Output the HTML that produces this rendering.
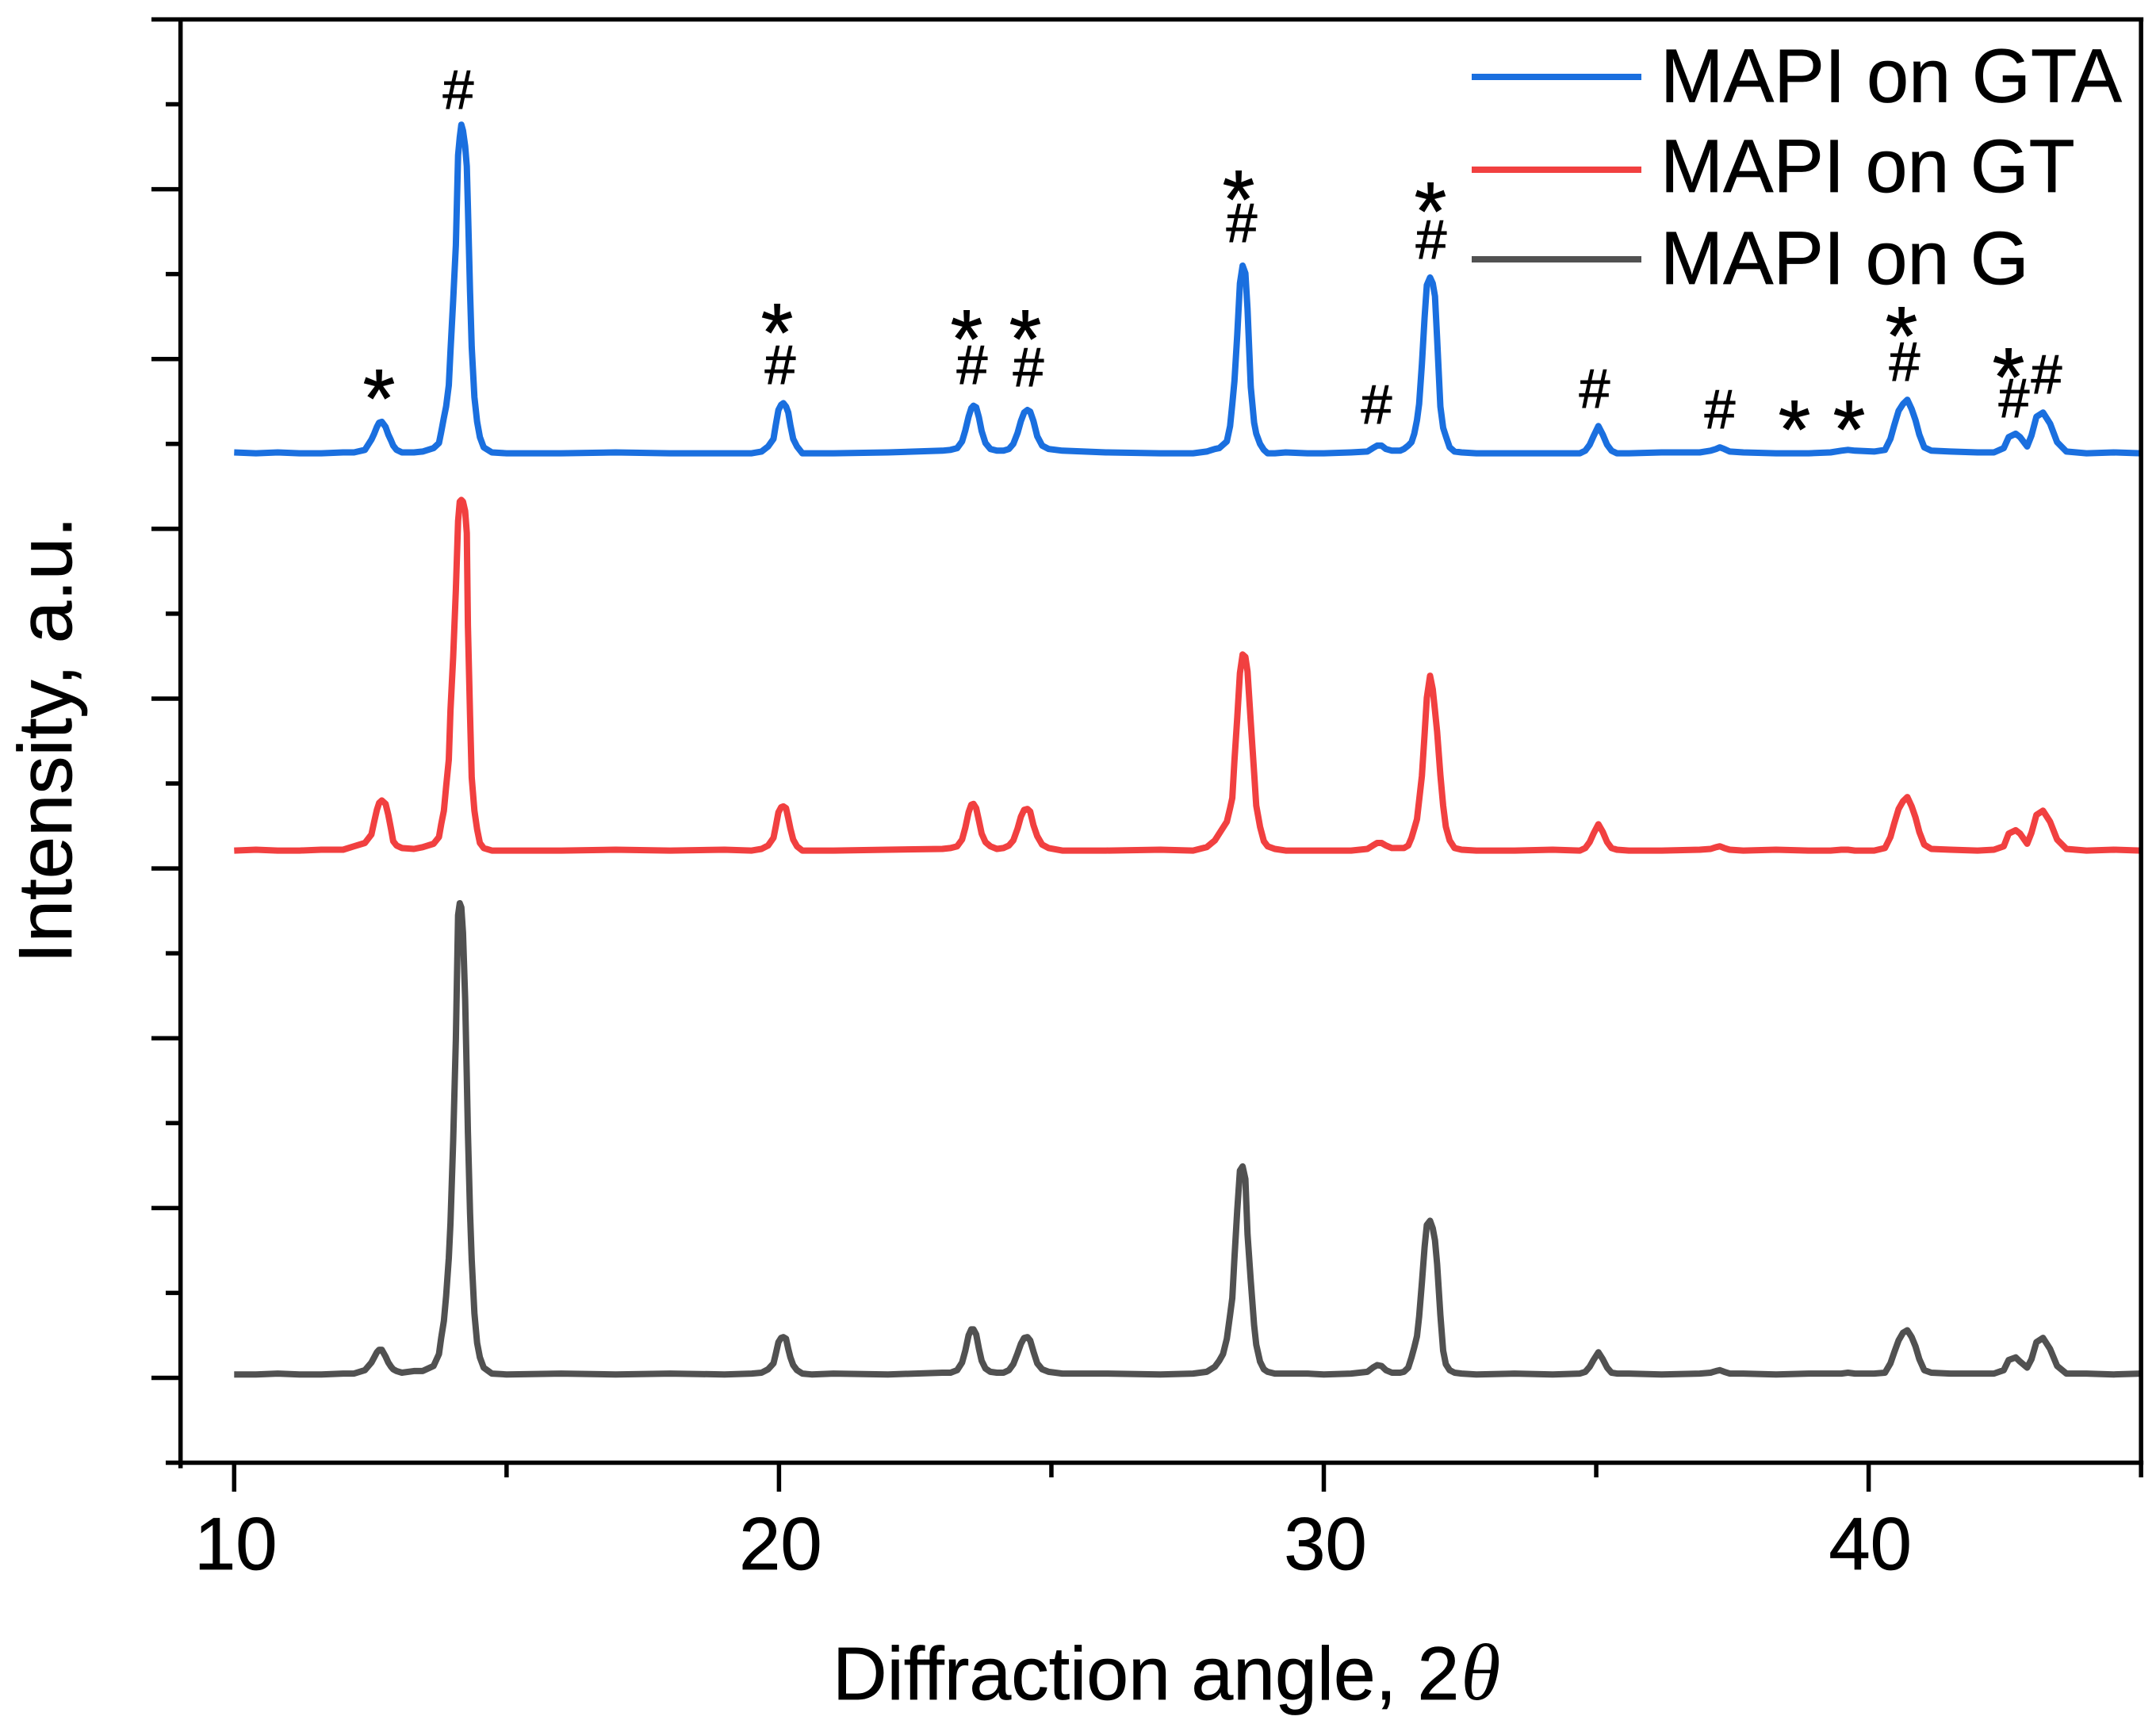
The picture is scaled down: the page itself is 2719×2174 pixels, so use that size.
<!DOCTYPE html>
<html lang="en">
<head>
<meta charset="utf-8">
<title>XRD patterns of MAPI films</title>
<style>
html,body{margin:0;padding:0;background:#fff;}
svg{display:block;}
text{font-family:"Liberation Sans",Arial,sans-serif;fill:#000;stroke:#000;stroke-width:0.7px;}
.hash{font-size:70px;text-anchor:middle;stroke-width:1px;}
.star{font-size:104px;text-anchor:middle;stroke-width:1px;}
</style>
</head>
<body>
<svg id="chart" xmlns="http://www.w3.org/2000/svg" width="2719" height="2174" viewBox="0 0 2719 2174">
  <rect x="0" y="0" width="2719" height="2174" fill="#fff"/>
  <g id="series"></g>
  <g id="axes"></g>

  <g>
    <text class="star" x="478" y="538">*</text>
    <text class="hash" x="578" y="137">#</text>
    <text class="star" x="980" y="455">*</text>
    <text class="hash" x="984" y="484">#</text>
    <text class="star" x="1219" y="463">*</text>
    <text class="hash" x="1226" y="484">#</text>
    <text class="star" x="1293" y="463">*</text>
    <text class="hash" x="1297" y="487">#</text>
    <text class="star" x="1562" y="287">*</text>
    <text class="hash" x="1566" y="305">#</text>
    <text class="hash" x="1736" y="534">#</text>
    <text class="star" x="1804" y="302">*</text>
    <text class="hash" x="1805" y="326">#</text>
    <text class="hash" x="2011" y="514">#</text>
    <text class="hash" x="2169" y="540">#</text>
    <text class="star" x="2263" y="577">*</text>
    <text class="star" x="2332" y="577">*</text>
    <text class="star" x="2398" y="459">*</text>
    <text class="hash" x="2402" y="480">#</text>
    <text class="star" x="2533" y="511">*</text>
    <text class="hash" x="2540" y="526">#</text>
    <text class="hash" x="2581" y="496">#</text>
  </g>

  <g>
    <g>
      <line x1="1856" y1="97" x2="2070" y2="97" stroke="#1A6FDF" stroke-width="8"/>
      <text x="2094" y="128.5" font-size="95.5">MAPI on GTA</text>
    </g>
    <g>
      <line x1="1856" y1="214" x2="2070" y2="214" stroke="#F14040" stroke-width="8"/>
      <text x="2094" y="242" font-size="95">MAPI on GT</text>
    </g>
    <g>
      <line x1="1856" y1="327" x2="2070" y2="327" stroke="#515151" stroke-width="8"/>
      <text x="2094" y="358" font-size="95">MAPI on G</text>
    </g>
  </g>

  <text x="1050" y="2143" font-size="95">Diffraction angle, 2<tspan dx="2" font-size="102" font-family="Liberation Serif, serif" font-style="italic" stroke-width="0">θ</tspan></text>
  <text transform="translate(90 1215) rotate(-90)" font-size="96">Intensity, a.u.</text>
</svg>

<script>
const twoTheta = [
  10,10.4,10.8,11.2,11.6,12,12.2,12.4,12.52,12.57,12.62,12.66,12.71,12.78,12.83,12.88,12.92,12.98,13.08,13.3,13.46,13.66,13.76,13.8,13.85,13.89,13.94,13.97,14.02,14.07,14.11,14.14,14.17,14.2,14.24,14.27,14.29,14.33,14.36,14.41,14.46,14.51,14.58,14.73,15,
  16,17,18,19,19.5,19.68,19.8,19.9,19.94,19.99,20.04,20.08,20.13,20.17,20.21,20.26,20.33,20.43,20.6,
  21,22,23,23.15,23.27,23.36,23.42,23.48,23.53,23.57,23.62,23.67,23.72,23.79,23.88,24,24.12,24.22,24.3,24.38,24.44,24.5,24.56,24.61,24.67,24.74,24.83,24.95,25.2,25.6,
  26,27,27.6,27.85,28,28.08,28.15,28.22,28.28,28.32,28.36,28.41,28.46,28.51,28.56,28.6,28.66,28.72,28.76,28.83,28.9,28.97,29.1,29.3,29.7,
  30,30.5,30.8,30.9,30.98,31.06,31.14,31.25,31.4,31.47,31.55,31.61,31.66,31.71,31.75,31.8,31.85,31.89,31.95,32,32.04,32.08,32.14,32.19,32.24,32.31,32.4,32.53,32.8,
  33.5,34.2,34.7,34.8,34.88,34.95,35.04,35.12,35.2,35.28,35.38,35.6,36.2,36.9,37.1,37.2,37.27,37.35,37.45,37.7,38.3,38.9,39.3,39.5,39.62,39.75,
  40.1,40.3,40.4,40.47,40.55,40.63,40.71,40.79,40.86,40.93,41.02,41.15,41.5,42,42.3,42.48,42.57,42.7,42.78,42.91,42.99,43.08,43.2,43.33,43.46,43.63,44,44.5,45
];

const intensityGTA = [
  11.90,11.89,11.90,11.89,11.89,11.90,11.90,11.93,12.05,12.12,12.20,12.25,12.26,12.20,12.11,12.04,11.98,11.93,11.90,11.90,11.91,11.95,12.01,12.14,12.31,12.44,12.69,13.09,13.69,14.34,15.40,15.61,15.76,15.69,15.51,15.27,14.79,13.79,13.14,12.55,12.26,12.08,11.96,11.90,11.89,
  11.89,11.90,11.89,11.89,11.89,11.91,11.97,12.06,12.22,12.40,12.46,12.48,12.44,12.37,12.22,12.06,11.97,11.89,11.89,
  11.89,11.90,11.92,11.93,11.95,12.03,12.16,12.32,12.42,12.45,12.43,12.31,12.15,12.01,11.94,11.92,11.92,11.94,12.00,12.13,12.27,12.37,12.40,12.38,12.27,12.09,11.98,11.94,11.92,11.91,
  11.90,11.89,11.89,11.91,11.94,11.95,11.99,12.03,12.21,12.47,12.74,13.28,13.89,14.10,14.01,13.59,12.67,12.25,12.12,12.00,11.93,11.89,11.89,11.90,11.89,
  11.89,11.90,11.91,11.95,11.98,11.98,11.94,11.92,11.92,11.94,11.98,12.02,12.12,12.28,12.47,12.94,13.49,13.87,13.96,13.89,13.74,13.24,12.44,12.19,12.09,11.96,11.91,11.90,11.89,
  11.89,11.89,11.89,11.92,11.99,12.09,12.21,12.11,11.99,11.92,11.89,11.89,11.90,11.90,11.92,11.94,11.96,11.94,11.91,11.90,11.89,11.89,11.90,11.92,11.93,11.92,
  11.91,11.93,12.06,12.22,12.39,12.47,12.52,12.41,12.28,12.11,11.96,11.92,11.91,11.90,11.90,11.95,12.08,12.12,12.08,11.97,12.10,12.32,12.37,12.24,12.02,11.91,11.89,11.90,11.89
];

const intensityGT = [
  7.21,7.22,7.21,7.21,7.22,7.22,7.26,7.30,7.40,7.55,7.69,7.77,7.80,7.76,7.63,7.46,7.32,7.27,7.24,7.23,7.25,7.29,7.37,7.52,7.68,7.96,8.28,8.86,9.49,10.28,11.09,11.32,11.34,11.32,11.21,10.95,9.86,8.80,8.07,7.68,7.46,7.30,7.24,7.21,7.21,
  7.21,7.22,7.21,7.22,7.21,7.23,7.27,7.36,7.49,7.66,7.72,7.73,7.71,7.59,7.47,7.34,7.26,7.21,7.21,
  7.21,7.22,7.23,7.24,7.26,7.34,7.48,7.66,7.75,7.76,7.71,7.56,7.41,7.31,7.26,7.23,7.24,7.27,7.33,7.47,7.61,7.69,7.70,7.67,7.51,7.38,7.28,7.24,7.21,7.21,
  7.21,7.22,7.21,7.25,7.33,7.41,7.48,7.55,7.71,7.83,8.27,8.77,9.30,9.52,9.49,9.32,8.72,8.13,7.74,7.49,7.32,7.26,7.23,7.21,7.21,
  7.21,7.21,7.23,7.27,7.30,7.30,7.27,7.24,7.24,7.24,7.27,7.36,7.47,7.58,7.80,8.09,8.58,9.01,9.27,9.11,8.86,8.61,8.10,7.74,7.49,7.33,7.24,7.22,7.21,
  7.21,7.22,7.21,7.24,7.31,7.41,7.52,7.43,7.31,7.24,7.22,7.21,7.21,7.22,7.23,7.25,7.26,7.24,7.22,7.21,7.22,7.21,7.21,7.22,7.22,7.21,
  7.21,7.24,7.37,7.53,7.70,7.79,7.84,7.73,7.60,7.43,7.28,7.23,7.22,7.21,7.22,7.26,7.41,7.45,7.41,7.29,7.42,7.63,7.68,7.55,7.34,7.23,7.21,7.22,7.21
];

const intensityG = [
  1.04,1.04,1.05,1.04,1.04,1.05,1.05,1.09,1.18,1.24,1.30,1.33,1.33,1.25,1.18,1.13,1.10,1.08,1.06,1.08,1.08,1.14,1.28,1.47,1.67,1.96,2.41,2.82,3.79,4.99,6.45,6.59,6.54,6.24,5.47,4.54,3.89,2.94,2.39,1.76,1.41,1.24,1.12,1.05,1.04,
  1.05,1.04,1.05,1.04,1.05,1.06,1.10,1.17,1.28,1.42,1.47,1.48,1.46,1.34,1.24,1.15,1.09,1.05,1.04,
  1.05,1.04,1.06,1.06,1.09,1.18,1.32,1.50,1.57,1.57,1.51,1.34,1.20,1.11,1.07,1.06,1.06,1.09,1.16,1.29,1.40,1.47,1.48,1.44,1.31,1.17,1.10,1.07,1.05,1.05,
  1.05,1.04,1.05,1.07,1.13,1.20,1.28,1.46,1.74,1.94,2.41,2.97,3.44,3.49,3.34,2.69,2.14,1.62,1.39,1.19,1.10,1.07,1.05,1.05,1.05,
  1.04,1.05,1.07,1.12,1.15,1.14,1.09,1.06,1.06,1.07,1.12,1.24,1.36,1.49,1.72,2.12,2.54,2.80,2.85,2.76,2.62,2.34,1.74,1.32,1.16,1.09,1.06,1.05,1.04,
  1.05,1.04,1.05,1.07,1.13,1.21,1.30,1.22,1.12,1.06,1.05,1.05,1.04,1.05,1.06,1.08,1.09,1.07,1.05,1.05,1.04,1.05,1.05,1.05,1.06,1.05,
  1.05,1.06,1.17,1.30,1.44,1.53,1.56,1.48,1.37,1.22,1.09,1.06,1.05,1.05,1.05,1.09,1.21,1.24,1.19,1.12,1.22,1.42,1.47,1.34,1.14,1.05,1.05,1.04,1.05
];

const xMajorTicks = [10, 20, 30, 40];
const xMinorTicks = [15, 25, 35, 45];
const xTickLabels = ["10", "20", "30", "40"];
const yMajorTicks = [1, 3, 5, 7, 9, 11, 13, 15, 17];
const yMinorTicks = [0, 2, 4, 6, 8, 10, 12, 14, 16];

const NS = "http://www.w3.org/2000/svg";
const xScale = v => 295.3 + (v - 10) * 68.71;
const yScale = v => 1844.5 - v * 107.06;
const axesGroup = document.getElementById("axes");
const seriesGroup = document.getElementById("series");

function addLine(x1, y1, x2, y2, w) {
  const el = document.createElementNS(NS, "line");
  el.setAttribute("x1", x1);
  el.setAttribute("y1", y1);
  el.setAttribute("x2", x2);
  el.setAttribute("y2", y2);
  el.setAttribute("stroke", "#000");
  el.setAttribute("stroke-width", w);
  axesGroup.appendChild(el);
  return el;
}

function addSeries(values, color, name) {
  const el = document.createElementNS(NS, "path");
  const d = twoTheta.map((t, i) => (i ? "L" : "M") + xScale(t).toFixed(1) + " " + yScale(values[i]).toFixed(1)).join(" ");
  el.setAttribute("d", d);
  el.setAttribute("fill", "none");
  el.setAttribute("stroke", color);
  el.setAttribute("stroke-width", "8");
  el.setAttribute("stroke-linejoin", "round");
  
  
  seriesGroup.appendChild(el);
}

addSeries(intensityG, "#515151", "series-mapi-on-g");
addSeries(intensityGT, "#F14040", "series-mapi-on-gt");
addSeries(intensityGTA, "#1A6FDF", "series-mapi-on-gta");

const leftX = xScale(9.016);
const rightX = xScale(45);
const topY = yScale(17);
const bottomY = yScale(0);

const leftAxis = addLine(leftX, topY - 2.5, leftX, bottomY + 7, 5.5);


const rightAxis = addLine(rightX, topY - 2.5, rightX, bottomY, 5.5);


const topAxis = addLine(leftX, topY, rightX + 3, topY, 5.5);


const bottomAxis = addLine(leftX, bottomY, rightX + 3, bottomY, 5.5);



yMajorTicks.forEach(v => {
  const t = addLine(191, yScale(v), leftX, yScale(v), 5.5);
  
  
});
yMinorTicks.forEach(v => {
  const t = addLine(209, yScale(v), leftX, yScale(v), 5.5);
  
  
});
xMajorTicks.forEach((v, i) => {
  const t = addLine(xScale(v), bottomY, xScale(v), 1881, 5.5);
  
  
  const label = document.createElementNS(NS, "text");
  label.setAttribute("x", xScale(v) + 2);
  label.setAttribute("y", 1979);
  label.setAttribute("font-size", "94");
  label.setAttribute("text-anchor", "middle");
  
  
  label.textContent = xTickLabels[i];
  axesGroup.appendChild(label);
});
xMinorTicks.forEach(v => {
  const t = addLine(xScale(v), bottomY, xScale(v), 1863, 5.5);
  
  
});
</script>
</body>
</html>
